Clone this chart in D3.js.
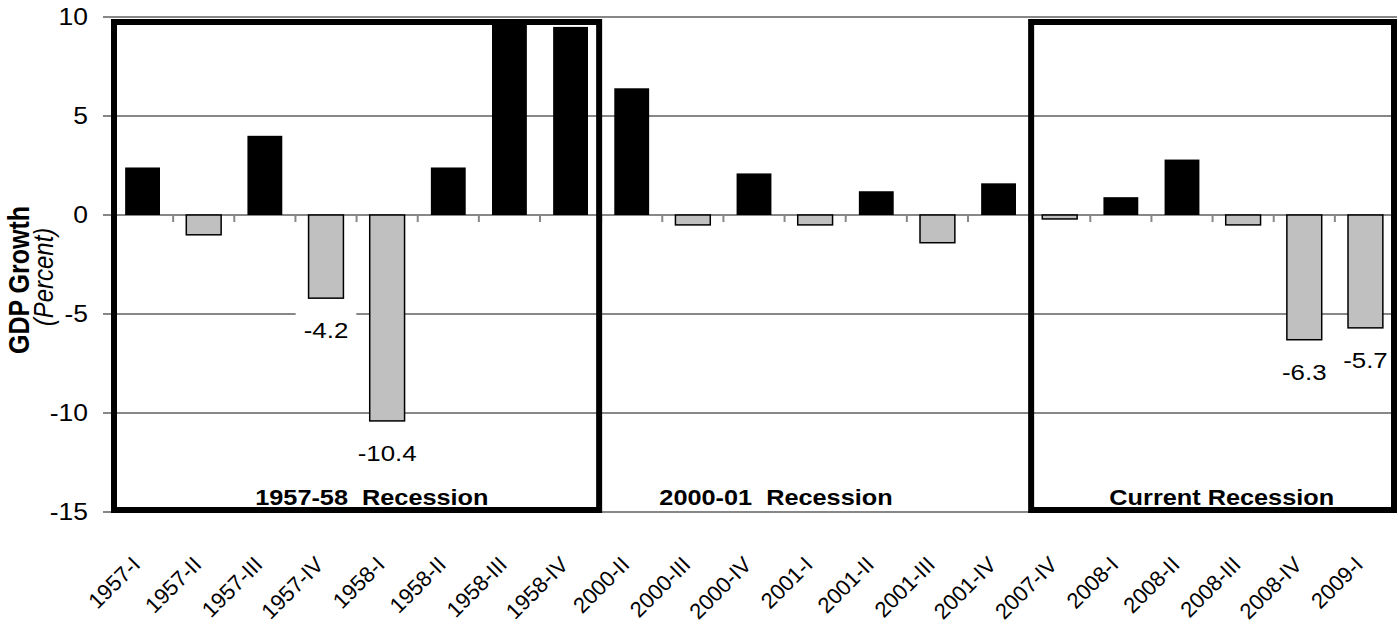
<!DOCTYPE html>
<html>
<head>
<meta charset="utf-8">
<script src="https://cdn.jsdelivr.net/npm/d3@7"></script>
<style>
  html, body { margin: 0; padding: 0; background: #fff; }
  svg { display: block; font-family: "Liberation Sans", Arial, sans-serif; }
</style>
</head>
<body>
<svg id="chart" width="1398" height="625"></svg>
<script>
// Quarterly real GDP growth (annualized, percent) around three recessions
const quarters = [
  "1957-I", "1957-II", "1957-III", "1957-IV", "1958-I", "1958-II", "1958-III", "1958-IV",
  "2000-II", "2000-III", "2000-IV", "2001-I", "2001-II", "2001-III", "2001-IV",
  "2007-IV", "2008-I", "2008-II", "2008-III", "2008-IV", "2009-I"
];
const growth = [
  2.4, -1.0, 4.0, -4.2, -10.4, 2.4, 9.8, 9.5,
  6.4, -0.5, 2.1, -0.5, 1.2, -1.4, 1.6,
  -0.2, 0.9, 2.8, -0.5, -6.3, -5.7
];
const yTicks = [-15, -10, -5, 0, 5, 10];
// quarters whose value is written under the bar
const labelledQuarters = ["1957-IV", "1958-I", "2008-IV", "2009-I"];
// recession episodes: first quarter, last quarter, caption, framed or not
const episodeFirst = ["1957-I", "2000-II", "2007-IV"];
const episodeLast = ["1958-IV", "2001-IV", "2009-I"];
const episodeName = ["1957-58  Recession", "2000-01  Recession", "Current Recession"];
const episodeFramed = [true, false, true];

// layout
const svg = d3.select("#chart");
const plot = { left: 112, right: 1396, top: 17, bottom: 512 };
const captionOffset = [4.25, 2.86, 3.15]; // caption centre, in quarters from the episode's first boundary
const widen = 1.15; // horizontal text is set slightly wide

const x = d3.scaleBand()
  .domain(quarters)
  .range([plot.left, plot.right])
  .paddingInner(0.43)
  .paddingOuter(0.215);
const y = d3.scaleLinear().domain([-15, 10]).range([plot.bottom, plot.top]);
const step = x.step();
const boundary = q => x(q) - step * 0.215;
const fmt = v => v.toFixed(1);

// text helper: positioned group, widened, optionally rotated
function label(parent, px, py, rotate, str, opts) {
  const sx = opts.sx === undefined ? widen : opts.sx;
  const g = parent.append("g")
    .attr("transform", `translate(${px},${py}) scale(${sx},1)` + (rotate ? ` rotate(${rotate})` : ""));
  const t = g.append("text")
    .attr("text-anchor", opts.anchor || "middle")
    .attr("font-size", opts.size)
    .attr("font-weight", opts.weight || "normal")
    .attr("font-style", opts.style || "normal")
    .attr("fill", "#000")
    .attr("dy", opts.dy || 0)
    .style("white-space", "pre")
    .text(str);
  return { g, t };
}

// horizontal gridlines with left tick marks
svg.append("g").selectAll("line").data(yTicks).join("line")
  .attr("x1", plot.left - 9).attr("x2", plot.right + 1)
  .attr("y1", d => y(d)).attr("y2", d => y(d))
  .attr("stroke", "#878787").attr("stroke-width", 2);

// y tick labels
const yLab = svg.append("g");
yTicks.forEach(v => label(yLab, 88, y(v), 0, String(v), { anchor: "end", size: 23, dy: "0.35em" }));

// category separator ticks under the zero line
const bounds = quarters.map(boundary).concat([boundary(quarters[quarters.length - 1]) + step]);
svg.append("g").selectAll("line").data(bounds).join("line")
  .attr("x1", d => d).attr("x2", d => d)
  .attr("y1", y(0)).attr("y2", y(0) + 7)
  .attr("stroke", "#878787").attr("stroke-width", 2);

// bars
const rows = quarters.map((q, i) => ({ q, v: growth[i] }));
svg.append("g").selectAll("rect").data(rows).join("rect")
  .attr("x", d => x(d.q))
  .attr("width", x.bandwidth())
  .attr("y", d => y(Math.max(0, d.v)))
  .attr("height", d => Math.abs(y(d.v) - y(0)))
  .attr("fill", d => d.v >= 0 ? "#000" : "#c0c0c0")
  .attr("stroke", d => d.v >= 0 ? "none" : "#000")
  .attr("stroke-width", 1.5);

// value labels on a white patch
const valueGroup = svg.append("g");
rows.filter(d => labelledQuarters.includes(d.q)).forEach(d => {
  const cx = x(d.q) + x.bandwidth() / 2;
  const { g, t } = label(valueGroup, cx, y(d.v) + 40, 0, fmt(d.v), { size: 22.5 });
  const bb = t.node().getBBox();
  g.insert("rect", "text")
    .attr("x", bb.x - 7).attr("y", bb.y - 6)
    .attr("width", bb.width + 14).attr("height", bb.height + 10)
    .attr("fill", "#fff");
});

// episode frames and captions
const epi = svg.append("g");
episodeName.forEach((name, i) => {
  const x0 = boundary(episodeFirst[i]);
  const x1 = boundary(episodeLast[i]) + step;
  if (episodeFramed[i]) {
    epi.append("rect")
      .attr("x", x0 + 2).attr("y", y(10) + 5)
      .attr("width", x1 - x0 - 4).attr("height", y(-15) - y(10) - 7)
      .attr("fill", "none").attr("stroke", "#000").attr("stroke-width", 6);
  }
  label(epi, x0 + captionOffset[i] * step, 505, 0, name, { size: 22, weight: "bold" });
});

// rotated category labels
const catLab = svg.append("g");
quarters.forEach(q => label(catLab, x(q) + x.bandwidth() / 2 - 1, 566, -45, q, { anchor: "end", size: 22, sx: 1 }));

// axis title
label(svg, 29, 280, -90, "GDP Growth", { size: 25, weight: "bold" });
label(svg, 53, 277, -90, "(Percent)", { size: 24, style: "italic" });
</script>
</body>
</html>
